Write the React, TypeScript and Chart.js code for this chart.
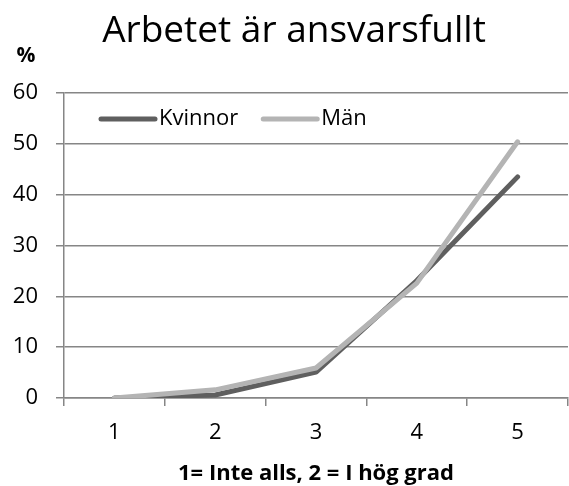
import React, { useEffect, useRef } from "react";
import { Chart, registerables } from "chart.js";

Chart.register(...registerables);

const titleText = "Arbetet är ansvarsfullt";
const yUnit = "%";
const xTitle = "1= Inte alls, 2 = I hög grad";
const categories = ["1", "2", "3", "4", "5"];
const kvinnor = [0, 0.6, 5.1, 23.1, 43.5];
const man = [0, 1.6, 5.9, 22.6, 50.4];
const seriesNames = ["Kvinnor", "Män"];
const seriesColors = ["#5f5f5f", "#b4b4b4"];

const FONT = "'Open Sans', 'Noto Sans', sans-serif";

const overlayPlugin = {
  id: "overlay",
  afterDraw(chart: any) {
    const ctx = chart.ctx;
    const area = chart.chartArea;
    ctx.save();
    // title
    ctx.fillStyle = "#000";
    ctx.font = `37px ${FONT}`;
    ctx.textAlign = "center";
    ctx.textBaseline = "alphabetic";
    ctx.fillText(titleText, 294, 42);
    // unit
    ctx.font = `bold 21px ${FONT}`;
    ctx.textBaseline = "middle";
    ctx.fillText(yUnit, 26, 56);
    // legend
    ctx.font = `22px ${FONT}`;
    ctx.textAlign = "left";
    const y = area.top + 26;
    let x = area.left + 37;
    chart.data.datasets.forEach((ds: any) => {
      ctx.strokeStyle = ds.borderColor;
      ctx.lineWidth = 5;
      ctx.lineCap = "round";
      ctx.beginPath();
      ctx.moveTo(x, y);
      ctx.lineTo(x + 54, y);
      ctx.stroke();
      ctx.fillStyle = "#000";
      ctx.fillText(ds.label, x + 58, y);
      x += 58 + ctx.measureText(ds.label).width + 25;
    });
    ctx.restore();
  },
};

export default function App() {
  const ref = useRef<HTMLCanvasElement | null>(null);
  useEffect(() => {
    document.body.style.margin = "0";
    const chart = new Chart(ref.current as HTMLCanvasElement, {
      type: "line",
      data: {
        labels: categories,
        datasets: [
          {
            label: seriesNames[0],
            data: kvinnor,
            borderColor: seriesColors[0],
            backgroundColor: seriesColors[0],
            borderWidth: 5,
            pointRadius: 0,
            borderCapStyle: "round",
            borderJoinStyle: "round",
            order: 1,
          },
          {
            label: seriesNames[1],
            data: man,
            borderColor: seriesColors[1],
            backgroundColor: seriesColors[1],
            borderWidth: 5,
            pointRadius: 0,
            borderCapStyle: "round",
            borderJoinStyle: "round",
            order: 0,
          },
        ],
      },
      options: {
        animation: false,
        responsive: false,
        layout: { padding: { top: 93, right: 1, left: 0, bottom: 0 } },
        plugins: {
          legend: { display: false },
          title: { display: false },
          tooltip: { enabled: false },
        },
        scales: {
          x: {
            offset: true,
            grid: {
              display: true,
              drawOnChartArea: false,
              offset: true,
              color: "#868686",
              lineWidth: 1.5,
              tickLength: 8,
            },
            border: { color: "#868686", width: 1.5 },
            ticks: {
              color: "#000",
              font: { family: FONT, size: 22 },
              padding: 14,
            },
            title: {
              display: true,
              text: xTitle,
              color: "#000",
              font: { family: FONT, size: 22, weight: "bold" },
              padding: { top: 0, bottom: -1 },
            },
            afterFit: (s: any) => {
              s.height = 88;
            },
          },
          y: {
            min: 0,
            max: 60,
            ticks: {
              stepSize: 10,
              color: "#000",
              font: { family: FONT, size: 22 },
              padding: 18,
            },
            grid: {
              color: "#868686",
              lineWidth: 1.5,
              tickLength: 8,
            },
            border: { color: "#868686", width: 1.5 },
            afterFit: (s: any) => {
              s.width = 64;
            },
          },
        },
      },
      plugins: [overlayPlugin],
    } as any);
    return () => chart.destroy();
  }, []);
  return <canvas ref={ref} width={569} height={486} style={{ display: "block" }} />;
}
